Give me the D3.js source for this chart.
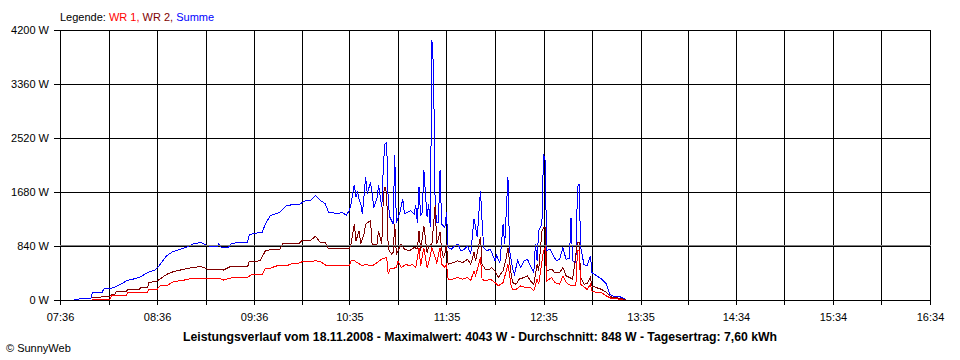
<!DOCTYPE html>
<html><head><meta charset="utf-8">
<script src="https://cdn.jsdelivr.net/npm/d3@7"></script>
<style>
html,body{margin:0;padding:0;background:#fff;}
svg{display:block;font-family:"Liberation Sans",Arial,sans-serif;}
</style></head><body>
<svg id="chart" width="960" height="360"></svg>
<script>
// ---------- data ----------
const seriesNames = ["WR 1", "WR 2", "Summe"];
const xTickLabels = ["07:36","08:36","09:36","10:35","11:35","12:35","13:35","14:34","15:34","16:34"];
const yTickValues = [0, 840, 1680, 2520, 3360, 4200];
const averageW = 848;
const titleText = "Leistungsverlauf vom 18.11.2008 - Maximalwert: 4043 W - Durchschnitt: 848 W - Tagesertrag: 7,60 kWh";
const copyrightText = "\u00A9 SunnyWeb";

const summe = [["07:45",0],["07:47",15],["07:55",20],["07:56",110],["08:02",115],["08:03",170],["08:07",180],["08:10",200],["08:13",240],["08:16",280],["08:17",300],["08:22",330],["08:25",350],["08:30",425],["08:35",470],["08:38",555],["08:42",690],["08:46",755],["08:50",785],["08:55",830],["08:58",870],["09:03",895],["09:06",860],["09:09",830],["09:13",830],["09:14",870],["09:16",815],["09:20",815],["09:22",880],["09:27",895],["09:32",895],["09:33",1015],["09:37",1040],["09:41",1050],["09:43",1185],["09:46",1310],["09:52",1365],["09:56",1470],["10:01",1485],["10:04",1490],["10:08",1545],["10:11",1545],["10:14",1625],["10:17",1550],["10:20",1500],["10:22",1365],["10:26",1350],["10:31",1355],["10:33",1320],["10:35",1390],
["10:36",1500],["10:38",1795],["10:39",1600],["10:40",1675],["10:41",1560],["10:42",1495],["10:43",1340],["10:45",1910],["10:46",1655],["10:48",1830],["10:49",1675],["10:50",1440],["10:52",1575],["10:53",1780],["10:55",1440],["10:56",2120],["10:57",2430],["10:58",2455],["10:59",1495],["11:00",1285],["11:02",1185],["11:03",2250],["11:04",1205],["11:06",1340],["11:08",1575],["11:09",1340],["11:11",1365],["11:13",1390],["11:15",1340],["11:16",1470],["11:17",1205],["11:18",1755],["11:19",1310],["11:20",1365],["11:21",2025],["11:23",1285],["11:24",1495],["11:25",1130],["11:26",4043],["11:27",3600],["11:28",1440],["11:29",1205],["11:30",1205],["11:31",2015],["11:32",1180],["11:34",1130],["11:35",1365],["11:36",815],["11:38",790],["11:40",840],["11:42",870],["11:44",765],["11:46",790],["11:48",840],["11:50",715],["11:52",1260],["11:53",1130],["11:54",975],["11:56",1700],["11:57",1235],["11:58",815],["12:00",765],["12:02",790],["12:03",740],["12:05",610],["12:06",690],["12:08",580],["12:10",1180],["12:11",870],["12:12",1390],["12:13",1920],["12:14",765],["12:16",480],["12:17",400],["12:19",610],["12:21",505],["12:23",610],["12:25",635],["12:27",530],["12:29",425],["12:30",870],["12:31",610],["12:32",1075],["12:34",1180],["12:35",2275],["12:36",2170],["12:37",765],["12:39",790],["12:41",690],["12:43",610],["12:45",635],["12:47",815],["12:48",715],["12:49",635],["12:51",650],["12:52",1275],["12:53",610],["12:55",580],["12:56",1755],["12:57",1805],["12:58",815],["13:00",555],["13:02",530],["13:04",690],["13:05",425],["13:08",375],["13:11",325],["13:14",245],["13:16",90],["13:18",60],["13:21",60],["13:24",35],["13:26",0]];

const wr2 = [["07:56",40],["08:01",40],["08:02",60],["08:07",60],["08:08",90],["08:10",90],["08:11",140],["08:17",140],["08:18",165],["08:25",165],["08:26",190],["08:30",190],["08:31",270],["08:36",295],["08:42",400],["08:46",440],["08:52",475],["08:58",505],["09:03",520],["09:06",495],["09:07",480],["09:13",480],["09:17",465],["09:21",515],["09:32",515],["09:33",600],["09:38",600],["09:40",620],["09:43",765],["09:47",790],["09:52",790],["09:54",885],["10:04",885],["10:06",930],["10:11",930],["10:14",990],["10:17",895],["10:20",895],["10:22",800],["10:35",800],
["10:36",870],["10:38",1180],["10:39",920],["10:41",1075],["10:42",870],["10:44",1025],["10:45",1180],["10:48",1235],["10:49",870],["10:52",870],["10:53",1075],["10:55",870],["10:56",1650],["10:57",1755],["10:58",1655],["10:59",790],["11:01",715],["11:02",740],["11:03",1180],["11:04",715],["11:07",870],["11:09",790],["11:12",765],["11:15",815],["11:17",800],["11:18",1075],["11:19",765],["11:21",1155],["11:23",740],["11:24",840],["11:26",870],["11:28",1470],["11:29",870],["11:31",1050],["11:32",790],["11:33",660],["11:34",715],["11:35",870],["11:36",555],["11:39",580],["11:42",610],["11:45",580],["11:48",635],["11:50",555],["11:52",740],["11:53",610],["11:56",975],["11:57",555],["11:59",480],["12:02",480],["12:03",505],["12:05",455],["12:07",350],["12:10",455],["12:12",660],["12:13",815],["12:15",400],["12:16",270],["12:18",245],["12:20",325],["12:23",350],["12:25",375],["12:27",295],["12:29",245],["12:31",555],["12:32",455],["12:34",1075],["12:35",1120],["12:36",1130],["12:37",455],["12:40",480],["12:42",425],["12:45",425],["12:47",505],["12:49",375],["12:51",350],["12:53",325],["12:56",895],["12:57",895],["12:58",350],["13:00",245],["13:02",260],["13:04",350],["13:05",220],["13:08",190],["13:11",165],["13:14",115],["13:17",45],["13:20",35],["13:24",15],["13:26",0]];

const wr1 = [["07:56",15],["08:07",15],["08:08",75],["08:17",75],["08:18",115],["08:30",115],["08:31",165],["08:36",165],["08:38",220],["08:42",220],["08:46",285],["08:52",305],["08:58",340],["09:06",340],["09:15",335],["09:17",310],["09:23",350],["09:32",350],["09:34",390],["09:41",390],["09:43",495],["09:46",495],["09:50",530],["09:56",530],["10:00",575],["10:04",575],["10:06",600],["10:12",600],["10:14",610],["10:17",600],["10:21",530],["10:35",530],
["10:36",610],["10:38",610],["10:40",580],["10:43",530],["10:45",555],["10:49",530],["10:52",580],["10:55",635],["10:58",660],["10:59",400],["11:00",480],["11:04",505],["11:05",610],["11:07",505],["11:10",555],["11:12",530],["11:14",555],["11:16",505],["11:18",815],["11:19",530],["11:21",815],["11:23",505],["11:24",580],["11:26",815],["11:28",660],["11:29",580],["11:31",815],["11:32",555],["11:34",505],["11:35",555],["11:36",325],["11:39",325],["11:42",350],["11:45",325],["11:48",350],["11:50",305],["11:52",455],["11:53",375],["11:56",660],["11:57",325],["11:59",295],["12:02",325],["12:05",270],["12:07",220],["12:10",270],["12:12",455],["12:13",555],["12:15",220],["12:16",165],["12:18",165],["12:21",220],["12:24",190],["12:27",190],["12:29",140],["12:31",325],["12:32",245],["12:35",765],["12:36",815],["12:37",295],["12:40",350],["12:42",270],["12:45",245],["12:47",375],["12:49",270],["12:52",220],["12:55",220],["12:56",765],["12:57",765],["12:58",245],["13:02",165],["13:04",245],["13:05",140],["13:08",115],["13:11",115],["13:14",60],["13:17",25],["13:21",15],["13:24",0]];

// ---------- drawing ----------
const parse = d3.timeParse("%H:%M");
const svg = d3.select("#chart");
const L = 60, R = 930, T = 30, B = 300;

const labelTimes = xTickLabels.map(parse);
const gridTimes = [];
labelTimes.forEach((t, i) => {
  gridTimes.push(t);
  if (i < labelTimes.length - 1) gridTimes.push(new Date((+t + +labelTimes[i + 1]) / 2));
});
const labelSet = new Set(labelTimes.map(t => +t));

const x = d3.scaleTime().domain([labelTimes[0], labelTimes[labelTimes.length - 1]]).range([L, R]);
const y = d3.scaleLinear().domain([0, d3.max(yTickValues)]).range([B, T]);

svg.append("rect").attr("width", 960).attr("height", 360).attr("fill", "#fff");

// vertical grid
svg.append("g").attr("transform", `translate(0,${B})`)
  .call(d3.axisBottom(x).tickValues(gridTimes).tickSize(-(B - T)).tickFormat(""))
  .call(g => g.select(".domain").remove())
  .call(g => g.selectAll("line").attr("stroke", "#000").attr("shape-rendering", "crispEdges"));
// horizontal grid
svg.append("g").attr("transform", `translate(${L},0)`)
  .call(d3.axisLeft(y).tickValues(yTickValues).tickSize(-(R - L)).tickFormat(""))
  .call(g => g.select(".domain").remove())
  .call(g => g.selectAll("line").attr("stroke", "#000").attr("shape-rendering", "crispEdges"));

// y axis labels + ticks
svg.append("g").attr("transform", `translate(${L},0)`)
  .call(d3.axisLeft(y).tickValues(yTickValues).tickSize(6).tickPadding(5).tickFormat(d => d + " W"))
  .call(g => g.select(".domain").remove())
  .call(g => g.selectAll("line").attr("stroke", "#000").attr("shape-rendering", "crispEdges"))
  .call(g => g.selectAll("text").attr("fill", "#000").attr("font-size", 11)
    .attr("font-family", "'Liberation Sans', Arial, sans-serif").attr("dy", "0.36em"));

// x axis ticks + labels
svg.append("g").attr("transform", `translate(0,${B})`)
  .call(d3.axisBottom(x).tickValues(gridTimes).tickSize(5).tickPadding(8).tickSizeOuter(0)
    .tickFormat(d => labelSet.has(+d) ? d3.timeFormat("%H:%M")(d) : ""))
  .call(g => g.select(".domain").attr("stroke", "#000").attr("shape-rendering", "crispEdges"))
  .call(g => g.selectAll("line").attr("stroke", "#000").attr("shape-rendering", "crispEdges"))
  .call(g => g.selectAll("text").attr("fill", "#000").attr("font-size", 11)
    .attr("font-family", "'Liberation Sans', Arial, sans-serif"));

// series
const colors = { "WR 1": "#ff0000", "WR 2": "#800000", "Summe": "#0000ff" };
const line = d3.line().x(d => x(parse(d[0]))).y(d => y(d[1]));
[["Summe", summe], ["WR 2", wr2], ["WR 1", wr1]].forEach(([name, data]) => {
  svg.append("path").datum(data)
    .attr("d", line)
    .attr("fill", "none")
    .attr("stroke", colors[name])
    .attr("stroke-width", 1)
    .attr("shape-rendering", "crispEdges");
});

// average line
svg.append("line")
  .attr("x1", L).attr("x2", R + 1)
  .attr("y1", y(averageW)).attr("y2", y(averageW))
  .attr("stroke", "#808080").attr("stroke-width", 1).attr("shape-rendering", "crispEdges");

// legend
const leg = svg.append("text").attr("x", L).attr("y", 21).attr("font-size", 11).attr("fill", "#000");
leg.append("tspan").text("Legende: ");
seriesNames.forEach((n, i) => {
  leg.append("tspan").attr("fill", colors[n]).text(n + (i < seriesNames.length - 1 ? ", " : ""));
});

// title
svg.append("text").attr("x", 480).attr("y", 341).attr("text-anchor", "middle")
  .attr("font-size", 12).attr("font-weight", "bold").attr("fill", "#000")
  .attr("textLength", 594).attr("lengthAdjust", "spacingAndGlyphs")
  .text(titleText);

// copyright
svg.append("text").attr("x", 6).attr("y", 352).attr("font-size", 11).attr("fill", "#000")
  .text(copyrightText);
</script>
</body></html>
